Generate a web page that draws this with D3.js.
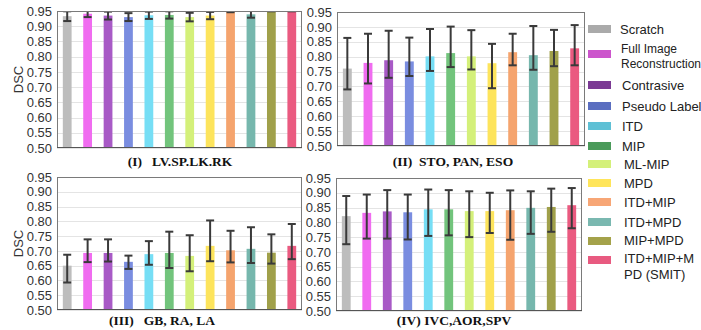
<!DOCTYPE html>
<html lang="en">
<head>
  <meta charset="utf-8">
  <title>DSC bars</title>
  <script src="https://d3js.org/d3.v7.min.js" charset="utf-8"></script>
  <style>
    body { margin: 0; background: #fff; }
    svg text { font-family: "Liberation Sans", Arial, sans-serif; }
  </style>
</head>
<body>
<script>
  const methods = ["Scratch", "Full Image Reconstruction", "Contrasive", "Pseudo Label", "ITD", "MIP",
    "ML-MIP", "MPD", "ITD+MIP", "ITD+MPD", "MIP+MPD", "ITD+MIP+MPD (SMIT)"]
  const yTicks = [0.50, 0.55, 0.60, 0.65, 0.70, 0.75, 0.80, 0.85, 0.90, 0.95]

  // mean, lower and upper ends of the error bar, one entry per method
  const meanI = [0.933, 0.941, 0.935, 0.930, 0.936, 0.937, 0.930, 0.935, 0.957, 0.939, 0.958, 0.958]
  const lowI  = [0.917, 0.930, 0.922, 0.917, 0.924, 0.925, 0.916, 0.923, 0.946, 0.928, 0.949, 0.949]
  const highI = [0.949, 0.952, 0.948, 0.943, 0.948, 0.949, 0.944, 0.947, 0.968, 0.950, 0.967, 0.967]

  const meanII = [0.760, 0.779, 0.788, 0.784, 0.801, 0.812, 0.801, 0.778, 0.815, 0.805, 0.819, 0.828]
  const lowII  = [0.690, 0.710, 0.729, 0.735, 0.752, 0.765, 0.757, 0.694, 0.771, 0.756, 0.768, 0.771]
  const highII = [0.863, 0.877, 0.887, 0.864, 0.893, 0.901, 0.889, 0.843, 0.877, 0.903, 0.890, 0.906]

  const meanIII = [0.650, 0.693, 0.693, 0.663, 0.689, 0.693, 0.683, 0.717, 0.702, 0.707, 0.694, 0.717]
  const lowIII  = [0.593, 0.662, 0.664, 0.639, 0.653, 0.642, 0.631, 0.665, 0.661, 0.659, 0.657, 0.672]
  const highIII = [0.687, 0.739, 0.739, 0.684, 0.733, 0.765, 0.753, 0.803, 0.768, 0.780, 0.756, 0.791]

  const meanIV = [0.821, 0.832, 0.837, 0.834, 0.844, 0.844, 0.838, 0.838, 0.841, 0.849, 0.852, 0.858]
  const lowIV  = [0.726, 0.745, 0.745, 0.742, 0.754, 0.756, 0.750, 0.764, 0.741, 0.761, 0.768, 0.780]
  const highIV = [0.889, 0.894, 0.909, 0.894, 0.911, 0.909, 0.905, 0.900, 0.908, 0.905, 0.914, 0.916]

  const barColors = ["#bdbdbd", "#f06cf0", "#a85ac6", "#7a8de0", "#76def5", "#72c47c",
    "#d4f07a", "#fde45c", "#f5a46e", "#76b7ad", "#a0a04a", "#ea5a80"]
  const legendColors = ["#aaaaaa", "#cc55cc", "#7b3a94", "#5a6ec0", "#5ec0d5", "#4a9a5a",
    "#d4f07a", "#ffe55a", "#f7a676", "#7ab8b0", "#a4a24a", "#e85a80"]

  const panels = [
    { id: "p1", title: "(I)   LV.SP.LK.RK", mean: meanI, low: lowI, high: highI, x0: 57, x1: 302, y0: 11, y1: 148, dsc: true, tx: 180, ty: 166 },
    { id: "p2", title: "(II)  STO, PAN, ESO", mean: meanII, low: lowII, high: highII, x0: 337, x1: 585, y0: 12, y1: 146, dsc: false, tx: 453, ty: 166 },
    { id: "p3", title: "(III)   GB, RA, LA", mean: meanIII, low: lowIII, high: highIII, x0: 57, x1: 302, y0: 177, y1: 310, dsc: true, tx: 162, ty: 325 },
    { id: "p4", title: "(IV) IVC,AOR,SPV", mean: meanIV, low: lowIV, high: highIV, x0: 336, x1: 582, y0: 178, y1: 311, dsc: false, tx: 454, ty: 325 }
  ]

  const svg = d3.select("body").append("svg")
    .attr("width", 701)
    .attr("height", 330)

  panels.forEach(p => {
    const x = d3.scaleBand().domain(methods).range([p.x0, p.x1]).paddingInner(0.57).paddingOuter(0.285)
    const y = d3.scaleLinear().domain([0.5, 0.95]).range([p.y1, p.y0])
    const g = svg.append("g")

    svg.append("clipPath").attr("id", "clip-" + p.id)
      .append("rect").attr("x", p.x0).attr("y", p.y0).attr("width", p.x1 - p.x0).attr("height", p.y1 - p.y0)

    // grid
    g.append("g").selectAll("line").data(yTicks).join("line")
      .attr("x1", p.x0).attr("x2", p.x1)
      .attr("y1", d => Math.round(y(d)) + 0.5).attr("y2", d => Math.round(y(d)) + 0.5)
      .attr("stroke", "#e4e4e4")

    const inner = g.append("g").attr("clip-path", `url(#clip-${p.id})`)
    inner.selectAll("rect").data(methods).join("rect")
      .attr("x", d => x(d))
      .attr("width", x.bandwidth())
      .attr("y", (d, i) => y(p.mean[i]))
      .attr("height", (d, i) => p.y1 - y(p.mean[i]))
      .attr("fill", (d, i) => barColors[i])

    const eb = inner.append("g").attr("stroke", "#3a3a3a").attr("stroke-width", 2)
    methods.forEach((m, i) => {
      const cx = x(m) + x.bandwidth() / 2
      eb.append("line").attr("x1", cx).attr("x2", cx).attr("y1", y(p.low[i])).attr("y2", y(p.high[i]))
      eb.append("line").attr("x1", cx - 4).attr("x2", cx + 4).attr("y1", y(p.low[i])).attr("y2", y(p.low[i]))
      eb.append("line").attr("x1", cx - 4).attr("x2", cx + 4).attr("y1", y(p.high[i])).attr("y2", y(p.high[i]))
    })

    // frame
    g.append("rect")
      .attr("x", p.x0 + 0.5).attr("y", p.y0 + 0.5)
      .attr("width", p.x1 - p.x0 - 1).attr("height", p.y1 - p.y0 - 1)
      .attr("fill", "none").attr("stroke", "#7a7a7a")
    g.append("line").attr("x1", p.x0).attr("x2", p.x1).attr("y1", p.y1 - 0.5).attr("y2", p.y1 - 0.5)
      .attr("stroke", "#555")

    const axis = d3.axisLeft(y).tickValues(yTicks).tickFormat(d3.format(".2f")).tickSize(0).tickPadding(5)
    const ax = g.append("g").attr("transform", `translate(${p.x0},0)`).call(axis)
    ax.select(".domain").remove()
    ax.selectAll("text").attr("font-size", 13).attr("fill", "#333")

    if (p.dsc) {
      g.append("text")
        .attr("transform", `translate(23,${(p.y0 + p.y1) / 2}) rotate(-90)`)
        .attr("text-anchor", "middle")
        .attr("font-size", 13)
        .attr("fill", "#333")
        .text("DSC")
    }

    g.append("text")
      .attr("x", p.tx).attr("y", p.ty)
      .attr("text-anchor", "middle")
      .style("font-family", "'Liberation Serif', 'Times New Roman', serif")
      .attr("font-weight", "bold")
      .attr("font-size", 13.5)
      .attr("fill", "#111")
      .attr("xml:space", "preserve")
      .text(p.title)
  })

  // legend: swatch centre y, first text line centre y, line height
  const legendRows = [
    { lines: ["Scratch"], y: 29, ty: 29, size: 13, tx: 620 },
    { lines: ["Full Image", "Reconstruction"], y: 54, ty: 49, size: 12, tx: 621 },
    { lines: ["Contrasive"], y: 85, ty: 85, size: 13, tx: 622 },
    { lines: ["Pseudo Label"], y: 106, ty: 106, size: 13, tx: 622 },
    { lines: ["ITD"], y: 126, ty: 126, size: 13, tx: 622 },
    { lines: ["MIP"], y: 146, ty: 146, size: 13, tx: 622 },
    { lines: ["ML-MIP"], y: 164, ty: 164, size: 13, tx: 624 },
    { lines: ["MPD"], y: 183, ty: 183, size: 13, tx: 624 },
    { lines: ["ITD+MIP"], y: 202, ty: 202, size: 13, tx: 624 },
    { lines: ["ITD+MPD"], y: 222, ty: 222, size: 13, tx: 624 },
    { lines: ["MIP+MPD"], y: 241, ty: 240, size: 13, tx: 624 },
    { lines: ["ITD+MIP+M", "PD (SMIT)"], y: 260, ty: 258, size: 13, tx: 624 }
  ]
  const lg = svg.append("g")
  legendRows.forEach((r, i) => {
    lg.append("rect").attr("x", 588).attr("y", r.y - 4).attr("width", 23).attr("height", 8)
      .attr("fill", legendColors[i])
    const lh = r.size + 3
    const t = lg.append("text").attr("font-size", r.size).attr("fill", "#222")
    r.lines.forEach((l, k) => {
      t.append("tspan").attr("x", r.tx)
        .attr("y", r.ty + r.size * 0.35 + k * lh)
        .text(l)
    })
  })
</script>
</body>
</html>
